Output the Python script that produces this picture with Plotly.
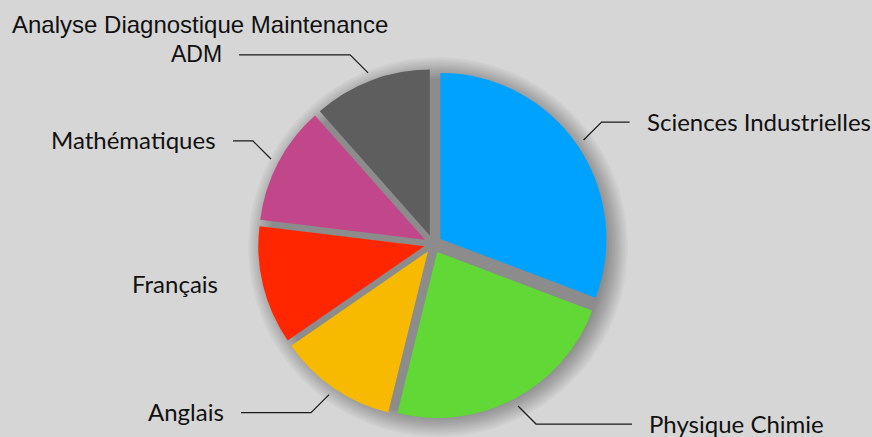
import math
import plotly.graph_objects as go

# ---- data ----
categories = ["Sciences Industrielles", "Physique Chimie", "Anglais", "Français", "Mathématiques", "ADM"]
values = [8, 6, 3, 3, 3, 3]
colors = ["#00A2FF", "#61D836", "#F8BA00", "#FF2600", "#C2478A", "#5E5E5E"]
title_text = "Analyse Diagnostique Maintenance"

# ---- layout parameters ----
W, H = 872, 437
CX, CY = 433, 244          # pie centre in pixels
R = 166                    # pie radius in pixels
PULL = 0.054
SHX, SHY = 5, 3            # shadow offset
leader_len = {"Sciences Industrielles": 28, "Physique Chimie": 96, "Anglais": 70,
              "Français": None, "Mathématiques": 20, "ADM": 111}
label_font = {"Sciences Industrielles": "Lato", "Physique Chimie": "Lato", "Anglais": "Lato",
              "Français": "Lato", "Mathématiques": "Lato", "ADM": "Liberation Sans"}


def px(x):
    return x / W


def py(y):
    return 1 - y / H


def domain(radius_box, cx=CX, cy=CY):
    return dict(x=[max(0, px(cx - radius_box)), min(1, px(cx + radius_box))],
                y=[max(0, py(cy + radius_box)), min(1, py(cy - radius_box))])


fig = go.Figure()

# soft drop shadow behind the pie (stack of faint discs)
total = sum(values)
n_layers = 16
for i in range(n_layers):
    rad = 190 - i * 1.45
    fig.add_trace(go.Pie(values=[total], labels=["_"],
                         marker=dict(colors=["rgba(0,0,0,0.024)"], line=dict(width=0)),
                         textinfo="none", hoverinfo="skip", showlegend=False, sort=False,
                         domain=domain(rad, CX + SHX, CY + SHY)))

# main exploded pie
box = R * (1 + PULL)
fig.add_trace(go.Pie(labels=categories, values=values, sort=False, direction="clockwise", rotation=0,
                     marker=dict(colors=colors, line=dict(width=0)), pull=[PULL] * len(values),
                     textinfo="none", showlegend=False, domain=domain(box)))

# leader lines & labels computed from slice mid-angles
shapes, annotations = [], []
cum = 0
for cat, v in zip(categories, values):
    mid = (cum + v / 2) / total * 2 * math.pi
    cum += v
    dx, dy = math.sin(mid), -math.cos(mid)
    sx, sy = CX + 183 * dx, CY + 183 * dy
    sgx = 1 if dx >= 0 else -1
    sgy = 1 if dy >= 0 else -1
    L = leader_len[cat]
    if L is None:
        lx, ly = sx + sgx * 35, sy - 4
    else:
        ex, ey = sx + 18 * sgx, sy + 18 * sgy
        fx = ex + L * sgx
        path = f"M {px(sx)},{py(sy)} L {px(ex)},{py(ey)} L {px(fx)},{py(ey)}"
        shapes.append(dict(type="path", xref="paper", yref="paper", path=path,
                           line=dict(color="#1a1a1a", width=1.2)))
        lx, ly = fx + 15 * sgx, ey - 1
    annotations.append(dict(x=px(lx), y=py(min(ly, 424)), xref="paper", yref="paper", text=cat, showarrow=False,
                            xanchor="left" if sgx > 0 else "right", yanchor="middle",
                            font=dict(family=label_font[cat], size=24 if label_font[cat] == "Lato" else 23,
                                      color="#111111")))

fig.update_layout(
    width=W, height=H,
    margin=dict(l=0, r=0, t=0, b=0),
    paper_bgcolor="#D6D6D6", plot_bgcolor="#D6D6D6",
    title=dict(text=title_text, x=px(12), xanchor="left", y=py(25), yanchor="middle",
               xref="paper", yref="paper",
               font=dict(family="Liberation Sans", size=24, color="#111111")),
    shapes=shapes, annotations=annotations,
)

fig.write_html("out.html", config={"displayModeBar": False},
               post_script="document.body.style.margin='0';document.body.style.background='#D6D6D6';")
